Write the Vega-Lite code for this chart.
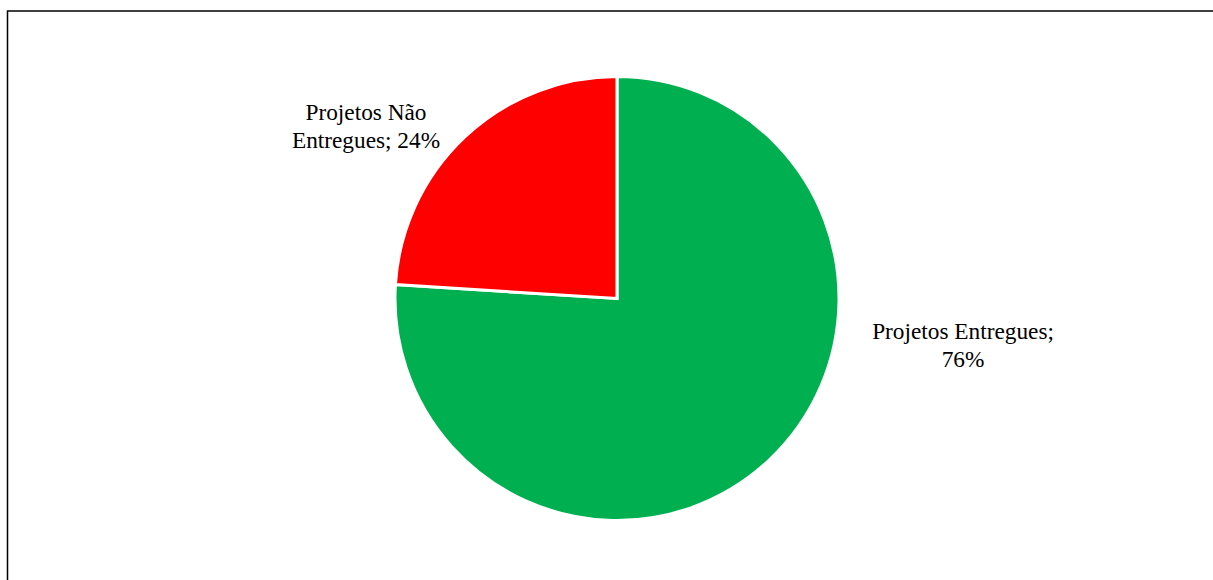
{
  "$schema": "https://vega.github.io/schema/vega-lite/v6.json",
  "autosize": {"type": "none"},
  "width": 1219,
  "height": 575,
  "padding": {"left": 7.5, "top": 11, "right": -13.5, "bottom": -6},
  "background": "white",
  "view": {"stroke": "black", "strokeWidth": 1.5, "fill": "white"},
  "data": {
    "values": [
      {"category": "Projetos Entregues", "value": 76, "label": "Projetos Entregues;\n76%"},
      {"category": "Projetos Não Entregues", "value": 24, "label": "Projetos Não\nEntregues; 24%"}
    ]
  },
  "transform": [{"stack": "value", "groupby": [], "as": ["v0", "v1"]}],
  "layer": [
    {
      "mark": {"type": "arc", "outerRadius": 222, "stroke": "white", "strokeWidth": 3},
      "encoding": {
        "theta": {"field": "v0", "type": "quantitative", "scale": {"domain": [0, 100]}},
        "theta2": {"field": "v1"},
        "color": {
          "field": "category",
          "type": "nominal",
          "scale": {"domain": ["Projetos Entregues", "Projetos Não Entregues"], "range": ["#00B050", "#FF0000"]},
          "legend": null
        }
      }
    },
    {
      "transform": [{"filter": "datum.category == 'Projetos Entregues'"}],
      "mark": {"type": "text", "radius": 347.7, "thetaOffset": 1.6687, "font": "Liberation Serif", "fontSize": 23.3, "lineHeight": 28, "lineBreak": "\n", "align": "center", "baseline": "middle", "color": "black"},
      "encoding": {
        "theta": {"field": "v0", "type": "quantitative"},
        "theta2": {"field": "v1"},
        "text": {"field": "label"}
      }
    },
    {
      "transform": [{"filter": "datum.category == 'Projetos Não Entregues'"}],
      "mark": {"type": "text", "radius": 312.4, "thetaOffset": 0.5749, "font": "Liberation Serif", "fontSize": 23.3, "lineHeight": 28, "lineBreak": "\n", "align": "center", "baseline": "middle", "color": "black"},
      "encoding": {
        "theta": {"field": "v0", "type": "quantitative"},
        "theta2": {"field": "v1"},
        "text": {"field": "label"}
      }
    }
  ]
}
